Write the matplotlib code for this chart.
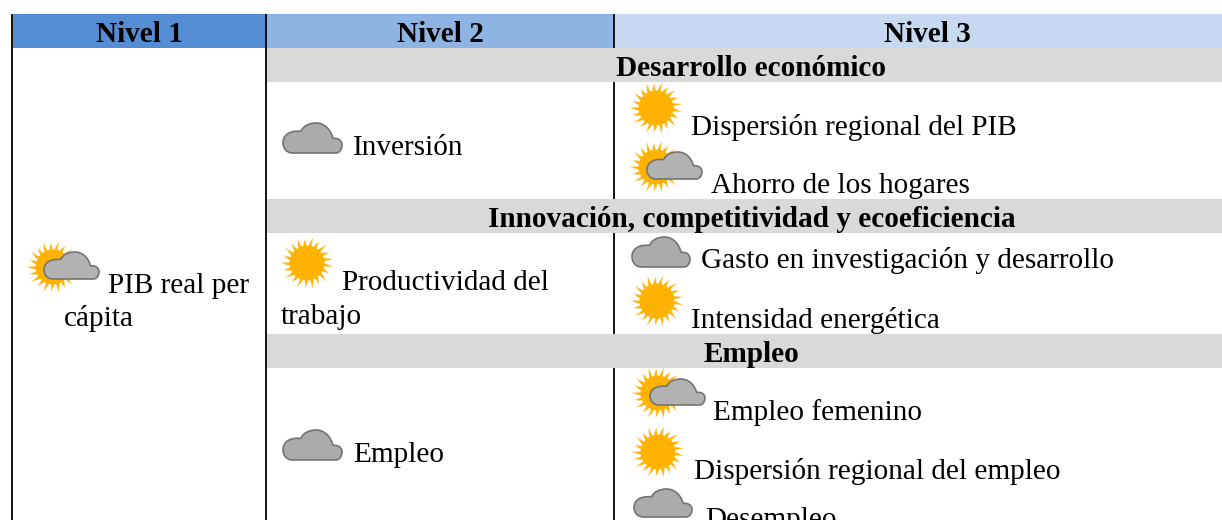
import numpy as np
import matplotlib
matplotlib.use("Agg")
import matplotlib.pyplot as plt
from matplotlib.path import Path
from matplotlib.patches import PathPatch, Polygon, Rectangle, Circle

# ---- content ----
headers = ["Nivel 1", "Nivel 2", "Nivel 3"]
sections = ["Desarrollo económico", "Innovación, competitividad y ecoeficiencia", "Empleo"]
level1_label = ["PIB real per", "cápita"]
level1_status = "mixed"
level2_labels = [["Inversión"], ["Productividad del", "trabajo"], ["Empleo"]]
level2_status = ["cloud", "sun", "cloud"]
level3_labels = ["Dispersión regional del PIB", "Ahorro de los hogares",
                 "Gasto en investigación y desarrollo", "Intensidad energética",
                 "Empleo femenino", "Dispersión regional del empleo", "Desempleo"]
level3_status = ["sun", "mixed", "cloud", "sun", "mixed", "sun", "cloud"]

# ---- layout (pixels) ----
W, H = 1222, 520
col_edges = [13, 266, 613, 1222]
header_colors = ["#548DD4", "#8EB4E3", "#C6D9F1"]
header_centers = [139, 440, 927]
band_rows = [(48, 82), (199, 233), (334, 368)]
band_color = "#D9D9D9"
FS = 21.1

plt.rcParams["font.family"] = ["Liberation Serif", "DejaVu Serif"]
fig = plt.figure(figsize=(W / 100, H / 100), dpi=100)
ax = fig.add_axes([0, 0, 1, 1])
ax.set_xlim(0, W)
ax.set_ylim(H, 0)
ax.axis("off")

CLOUD_V = [(10, 29), (3, 29), (0, 24), (0, 19), (0, 12), (6, 8), (14, 8),
           (16, 8), (17, 8), (18, 8), (20, 3), (26, 0), (33, 0),
           (42, 0), (48, 7), (50, 15), (55, 14), (59, 17), (59, 21),
           (59, 26), (56, 29), (53, 29), (10, 29)]
CLOUD_C = [Path.MOVETO] + [Path.CURVE4] * 21 + [Path.LINETO]


def draw_cloud(x0, y0, x1, y1, z=5, fc="#ABABAB"):
    v = np.array(CLOUD_V, float)
    v[:, 0] = x0 + v[:, 0] / 59 * (x1 - x0)
    v[:, 1] = y0 + v[:, 1] / 29 * (y1 - y0)
    ax.add_patch(PathPatch(Path(v, CLOUD_C), fc=fc, ec="#747474", lw=1.2,
                           joinstyle="round", zorder=z))


def draw_sun(cx, cy, r=26, z=4):
    n = 21
    th = 2 * np.pi / n
    for k in range(n):
        a = k * th + 0.1
        ln = r * (1.0 if k % 2 == 0 else 0.93)
        base_l = a - th * 0.42
        base_r = a + th * 0.42
        tip = a + 0.06
        pts = [(cx + r * 0.58 * np.cos(base_l), cy + r * 0.58 * np.sin(base_l)),
               (cx + r * 0.76 * np.cos(a - th * 0.17), cy + r * 0.76 * np.sin(a - th * 0.17)),
               (cx + ln * np.cos(tip), cy + ln * np.sin(tip)),
               (cx + r * 0.76 * np.cos(a + th * 0.24), cy + r * 0.76 * np.sin(a + th * 0.24)),
               (cx + r * 0.58 * np.cos(base_r), cy + r * 0.58 * np.sin(base_r))]
        ax.add_patch(Polygon(pts, closed=True, fc="#FFB300", ec="#FFD98A", lw=0.3,
                             joinstyle="round", zorder=z))
    ax.add_patch(Circle((cx, cy), r * 0.67, fc="#FFB300", ec="none", zorder=z + 0.1))


def draw_icon(kind, box):
    if kind == "sun":
        draw_sun(box[0], box[1])
    elif kind == "cloud":
        draw_cloud(*box)
    else:
        draw_sun(box[0], box[1])
        draw_cloud(*box[2:], fc="#B2B2B2")


# header cells
for i, (name, col) in enumerate(zip(headers, header_colors)):
    ax.add_patch(Rectangle((col_edges[i], 14), col_edges[i + 1] - col_edges[i], 34,
                           fc=col, ec="none", zorder=1))
    ax.text(header_centers[i], 42, name, ha="center", va="baseline",
            fontsize=FS, fontweight="bold", color="black", zorder=6)

# section bands
for (y0, y1), name in zip(band_rows, sections):
    ax.add_patch(Rectangle((267, y0), W - 267, y1 - y0, fc=band_color, ec="none", zorder=1))
    ax.text(751.5, y0 + 28, name, ha="center", va="baseline",
            fontsize=FS, fontweight="bold", color="black", zorder=6)

# column rules
LW = 1.3
ax.plot([12, 12], [14, H], color="black", lw=LW, zorder=3, solid_capstyle="butt")
ax.plot([266, 266], [14, H], color="black", lw=LW, zorder=3, solid_capstyle="butt")
for y0, y1 in [(14, 48), (82, 199), (233, 334), (368, H)]:
    ax.plot([613.7, 613.7], [y0, y1], color="black", lw=LW, zorder=3, solid_capstyle="butt")

# level 1
draw_icon(level1_status, (53, 267, 44, 252, 99, 279))
for s, x, y in zip(level1_label, [108, 64], [293, 326]):
    ax.text(x, y, s, ha="left", va="baseline", fontsize=FS, color="black", zorder=6)

# level 2
l2_icons = [(283, 123, 342, 153), (307, 263), (283, 430, 342, 460)]
l2_text = [[(353, 155)], [(342, 290), (281, 324)], [(353, 462)]]
for status, box, lines, pos in zip(level2_status, l2_icons, level2_labels, l2_text):
    draw_icon(status, box)
    for s, (x, y) in zip(lines, pos):
        ax.text(x, y, s, ha="left", va="baseline", fontsize=FS, color="black", zorder=6)

# level 3
l3_icons = [(656, 108), (656, 167, 647, 152, 702, 179), (632, 237, 690, 267), (657, 301),
            (658, 393, 650, 379, 705, 405), (658, 452), (634, 489, 692, 517)]
l3_text = [(691, 135), (711, 193), (701, 268), (691, 328), (713, 420), (694, 479), (705, 527)]
for s, status, box, (x, y) in zip(level3_labels, level3_status, l3_icons, l3_text):
    draw_icon(status, box)
    ax.text(x, y, s, ha="left", va="baseline", fontsize=FS, color="black", zorder=6)

fig.savefig("out.png", dpi=100, facecolor="white")
